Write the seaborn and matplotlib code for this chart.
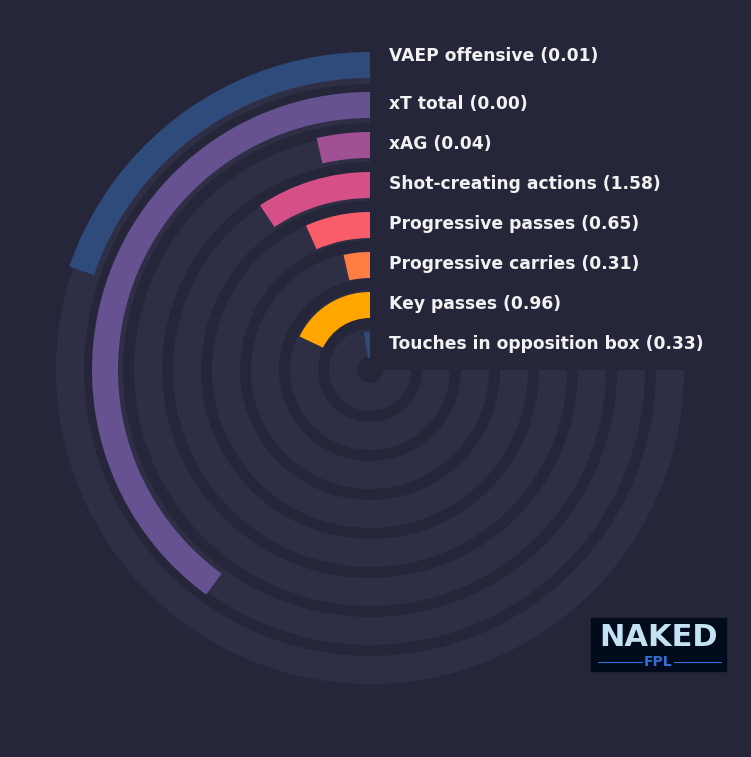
import numpy as np
import matplotlib
matplotlib.use('Agg')
import matplotlib.pyplot as plt
from matplotlib.patches import Rectangle
from matplotlib.lines import Line2D
import seaborn as sns

# data (outer ring first); sweep is share of the 270 degree track
labels = ['VAEP offensive (0.01)', 'xT total (0.00)', 'xAG (0.04)',
          'Shot-creating actions (1.58)', 'Progressive passes (0.65)',
          'Progressive carries (0.31)', 'Key passes (0.96)',
          'Touches in opposition box (0.33)']
pct = [26.3, 53.3, 4.8, 12.5, 8.85, 4.8, 23.9, 3.4]
colors = ['#2f4b7c', '#665191', '#a05195', '#d45087',
          '#f95d6a', '#ff7c43', '#ffa600', '#2f4b7c']

bg = '#252639'
track_col = '#2e2f45'
text_col = '#f2f2f2'

sns.set_theme(style='dark')
plt.rcParams['font.family'] = ['DejaVu Sans']

W, H = 751, 757
fig = plt.figure(figsize=(W / 100, H / 100), dpi=100, facecolor=bg)

# polar axes, centre at pixel (370, 370), radius 330 px
R = 330
cx, cy = 370, 370
ax = fig.add_axes([(cx - R) / W, (H - cy - R) / H, 2 * R / W, 2 * R / H],
                  projection='polar')
ax.set_theta_zero_location('N')
ax.set_theta_direction(1)
ax.set_rlim(0, R)
ax.axis('off')

pal = sns.color_palette(colors)
full = np.deg2rad(270)
for i, (lab, p) in enumerate(zip(labels, pct)):
    tc = 300 - 39 * i
    bc = 305 - 40 * i
    # background track
    ax.bar(0, 28, width=full, bottom=tc - 14, align='edge',
           color=track_col, linewidth=0)
    # value bar
    ax.bar(0, 26, width=full * p / 100, bottom=bc - 13, align='edge',
           color=pal[i], linewidth=0)
    dy = 8 if i == 0 else 0
    ax.annotate(lab, xy=(0, bc + 1), xytext=(19 * 0.72, dy * 0.72),
                textcoords='offset points', ha='left', va='center',
                color=text_col, fontsize=12.3, fontweight='bold')

# logo box (bottom right)
x0, y0, x1, y1 = 591, 618, 726, 671
fig.patches.append(Rectangle((x0 / W, 1 - y1 / H), (x1 - x0) / W, (y1 - y0) / H,
                             transform=fig.transFigure, color='#020b1c', zorder=5))
fig.text((x0 + x1) / 2 / W, 1 - 637 / H, 'NAKED', ha='center', va='center',
         color='#c3e2f4', fontsize=22, fontweight='bold', zorder=6)
fig.text((x0 + x1) / 2 / W, 1 - 662 / H, 'FPL', ha='center', va='center',
         color='#2f6fd6', fontsize=10, fontweight='bold', zorder=6)
for xa, xb in [(598, 642), (674, 721)]:
    fig.lines.append(Line2D([xa / W, xb / W], [1 - 662 / H, 1 - 662 / H],
                            transform=fig.transFigure, color='#2f6fd6',
                            linewidth=0.8, zorder=6))

fig.savefig('out.png', dpi=100, facecolor=bg)
